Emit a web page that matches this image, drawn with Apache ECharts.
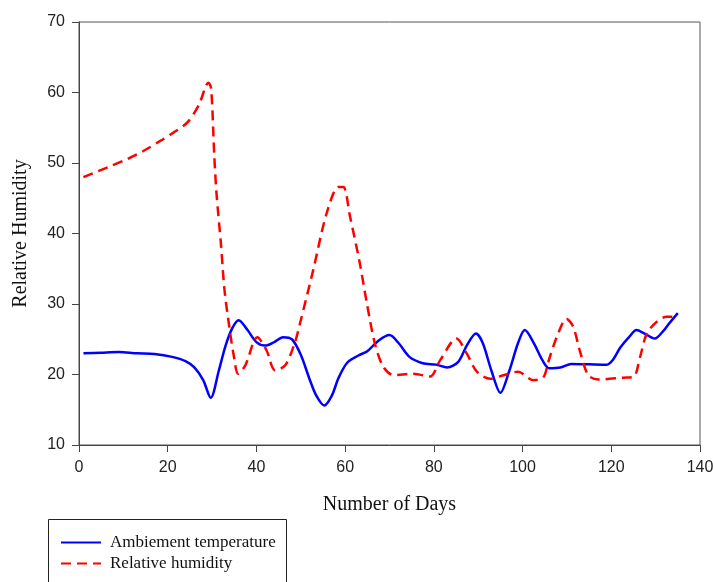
<!DOCTYPE html>
<html>
<head>
<meta charset="utf-8">
<script src="https://cdn.jsdelivr.net/npm/echarts@6/dist/echarts.min.js"></script>
<style>
  html, body { margin: 0; padding: 0; background: #fff; }
  #main { width: 713px; height: 582px; }
</style>
</head>
<body>
<div id="main"></div>
<script>
// values
const tempDays = [1, 5, 9, 13, 17, 21, 24, 26, 28, 29.7, 31.5, 33, 34.5, 36, 38, 40, 42, 44, 46, 48, 50, 52, 53.5, 55.3, 57, 58.5, 60.5, 63, 65, 67.5, 70, 72, 74.5, 77.5, 80.5, 83, 85.5, 87.5, 89.5, 91, 93, 95, 97, 99, 100.5, 102.5, 104.5, 106, 108.5, 111, 115, 119, 120.5, 122, 124, 125.7, 127.5, 129.8, 131.5, 133, 135];
const tempValues = [23.0, 23.1, 23.2, 23.0, 22.9, 22.5, 21.9, 21.0, 19.2, 16.7, 20.5, 24.0, 26.5, 27.7, 26.3, 24.6, 24.1, 24.6, 25.3, 25.0, 22.8, 19.3, 17.0, 15.6, 17.0, 19.5, 21.7, 22.7, 23.3, 24.8, 25.6, 24.5, 22.5, 21.6, 21.4, 21.0, 21.8, 24.2, 25.8, 24.5, 20.5, 17.4, 20.5, 24.5, 26.3, 24.5, 22.0, 20.9, 21.0, 21.5, 21.45, 21.4, 22.2, 23.8, 25.3, 26.3, 25.8, 25.1, 26.0, 27.2, 28.7];

const humDays = [1, 6.5, 11, 14.5, 18.5, 22, 24.5, 27, 29.2, 29.8, 30.5, 31, 32, 32.8, 33.9, 34.8, 35.9, 37.5, 40.2, 42.3, 44.2, 46.5, 48.7, 49.8, 52.8, 55.8, 58.5, 59.6, 61.1, 63.3, 64.9, 66.7, 68.6, 70.9, 75.4, 79.1, 81.4, 85.1, 87.4, 89.7, 92.7, 95.7, 99, 102.4, 104.7, 105.8, 107.7, 109.9, 111.4, 112.9, 114.8, 117.1, 122.7, 125, 126.5, 128, 130.2, 132.5, 134.7];
const humValues = [48.0, 49.4, 50.6, 51.7, 53.2, 54.6, 55.8, 58.2, 61.4, 60.5, 51.0, 45.7, 38.5, 32.0, 26.7, 23.0, 20.1, 21.3, 25.3, 23.4, 20.6, 21.3, 24.6, 27.2, 34.8, 42.8, 46.6, 46.6, 42.4, 35.8, 30.1, 24.4, 21.1, 19.9, 20.1, 19.7, 22.0, 25.1, 23.0, 20.4, 19.4, 19.9, 20.4, 19.2, 19.6, 21.8, 25.3, 27.9, 26.8, 23.4, 19.9, 19.3, 19.55, 19.65, 22.5, 25.8, 27.45, 28.2, 28.2];

const seriesNames = ['Ambiement temperature', 'Relative humidity'];

const chart = echarts.init(document.getElementById('main'));

const tickLabel = { color: '#222', fontFamily: 'Liberation Sans, Arial', fontSize: 16 };
const titleFont = { color: '#111', fontFamily: 'Liberation Serif, Times New Roman', fontSize: 20 };
const axisColor = '#444';

chart.setOption({
  animation: false,
  backgroundColor: '#fff',
  grid: {
    left: 79, right: 13, top: 22, bottom: 137,
    outerBoundsMode: 'none',
    show: true, borderColor: '#555', borderWidth: 1
  },
  xAxis: {
    type: 'value',
    min: 0, max: 140, interval: 20,
    name: 'Number of Days',
    nameLocation: 'middle',
    nameGap: 50,
    nameTextStyle: titleFont,
    axisLine: { show: true, lineStyle: { color: axisColor, width: 1 } },
    axisTick: { show: true, inside: false, length: 7, lineStyle: { color: axisColor } },
    axisLabel: Object.assign({ margin: 15, hideOverlap: false }, tickLabel),
    splitLine: { show: false }
  },
  yAxis: {
    type: 'value',
    min: 10, max: 70, interval: 10,
    name: 'Relative Humidity',
    nameLocation: 'middle',
    nameGap: 48,
    nameTextStyle: titleFont,
    axisLine: { show: true, lineStyle: { color: axisColor, width: 1 } },
    axisTick: { show: true, inside: false, length: 7, lineStyle: { color: axisColor } },
    axisLabel: Object.assign({ margin: 14 }, tickLabel),
    splitLine: { show: false }
  },
  legend: {
    orient: 'vertical',
    left: 55, top: 529,
    itemWidth: 40, itemHeight: 14,
    itemGap: 4,
    itemStyle: { opacity: 0 },
    textStyle: { color: '#111', fontFamily: 'Liberation Serif, Times New Roman', fontSize: 17, padding: [0, 0, 0, 4] },
    data: seriesNames
  },
  graphic: [{
    type: 'rect',
    shape: { x: 48.5, y: 519.5, width: 238, height: 80 },
    style: { fill: 'none', stroke: '#222', lineWidth: 1 },
    silent: true
  }],
  series: [
    {
      name: seriesNames[0],
      type: 'line',
      data: tempDays.map((d, i) => [d, tempValues[i]]),
      smooth: 0.3,
      showSymbol: false,
      symbol: 'none',
      lineStyle: { color: '#0000ff', width: 2.5 },
      itemStyle: { color: '#0000ff' }
    },
    {
      name: seriesNames[1],
      type: 'line',
      data: humDays.map((d, i) => [d, humValues[i]]),
      smooth: 0.3,
      showSymbol: false,
      symbol: 'none',
      lineStyle: { color: '#ff0000', width: 2.5, type: [10, 6] },
      itemStyle: { color: '#ff0000' }
    }
  ]
});
</script>
</body>
</html>
